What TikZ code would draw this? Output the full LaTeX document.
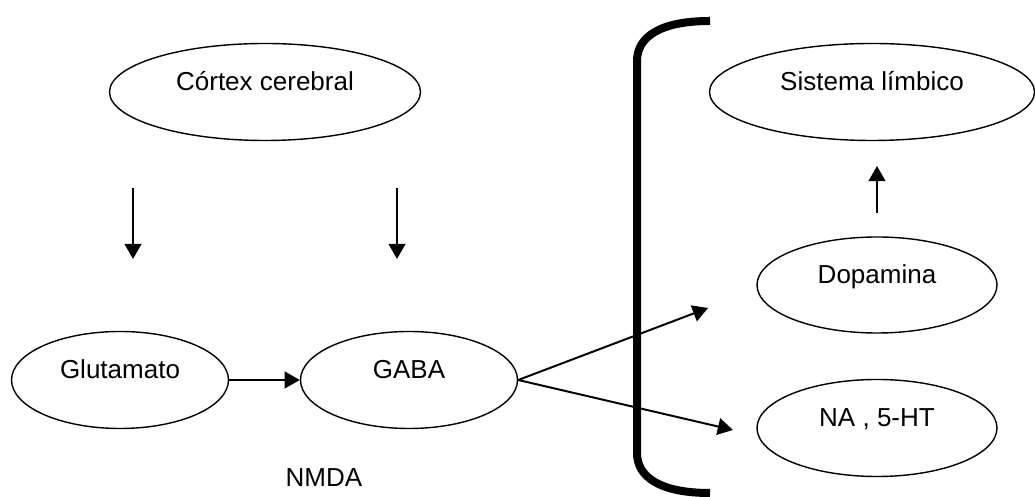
\documentclass[tikz,border=0pt]{standalone}
\usepackage{fontspec}
\setmainfont{Liberation Sans}
\usetikzlibrary{arrows.meta,shapes.geometric}
\begin{document}
\begin{tikzpicture}
		\tikzset{vertex/.style = {shape=ellipse,draw,line width=1pt,inner sep=0pt,text height=0.45cm,text depth=0.5cm,minimum height=2.425cm,font=\fontsize{18.5}{22}\selectfont}}
		\tikzset{edge/.style = {-{Triangle[length=0.38cm,width=0.42cm]},line width=1.4pt}}
		\useasboundingbox (0,0) rectangle (25.875,12.425);
		\node[vertex,minimum width=7.775cm] (cortex) at (6.625,10.125) {Córtex cerebral};
		\node[vertex,minimum width=8.125cm] (limbico) at (21.8,10.125) {Sistema límbico};
		\node[vertex,minimum width=6.0cm,minimum height=2.4cm] (dopamina) at (21.925,5.3) {Dopamina};
		\node[vertex,minimum width=6.0cm] (na) at (21.925,1.725) {NA , 5-HT};
		\node[vertex,minimum width=5.425cm] (glutamato) at (3.0,2.925) {Glutamato};
		\node[vertex,minimum width=5.425cm] (gaba) at (10.225,2.925) {GABA};
		\node[font=\fontsize{18.5}{22}\selectfont] (nmda) at (8.1,0.475) {NMDA};
		\coordinate (d1a) at (3.325,7.725);
		\coordinate (d1b) at (3.325,5.95);
		\coordinate (d2a) at (9.925,7.725);
		\coordinate (d2b) at (9.925,5.95);
		\coordinate (upa) at (21.925,7.1);
		\coordinate (upb) at (21.925,8.275);
		\coordinate (todopa) at (17.7,4.725);
		\coordinate (tona) at (18.325,1.675);
		% bracket
		\draw[line width=5.7pt] (17.75,11.9) .. controls (16.5,11.9) and (15.925,11.5) .. (15.925,10.9) -- (15.925,1.1) .. controls (15.925,0.5) and (16.5,0.1) .. (17.75,0.1);
		\draw[edge] (d1a) -- (d1b);
		\draw[edge] (d2a) -- (d2b);
		\draw[edge] (upa) -- (upb);
		\draw[edge] (glutamato) -- (gaba);
		\draw[edge] (gaba.east) -- (todopa);
		\draw[edge] (gaba.east) -- (tona);
	\end{tikzpicture}
\end{document}
